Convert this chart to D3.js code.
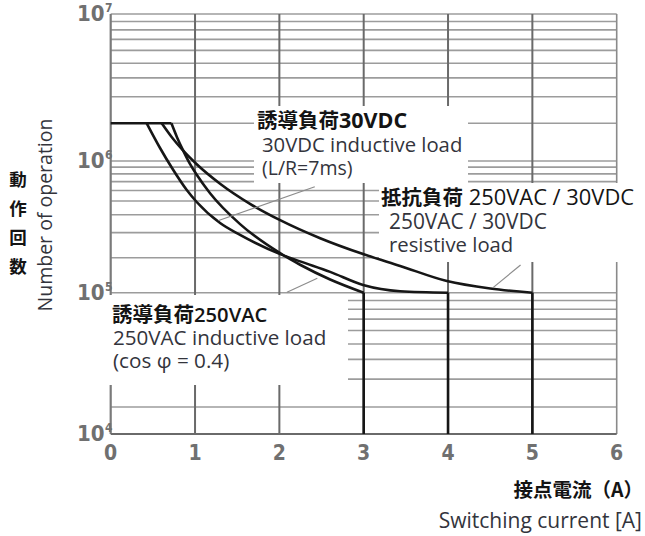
<!DOCTYPE html>
<html><head><meta charset="utf-8">
<script src="https://cdn.jsdelivr.net/npm/d3@7"></script>
<style>body{margin:0;background:#fff} svg{display:block}</style>
</head><body><svg id="c" width="645" height="536"></svg>
<script>
// ---------- data ----------
const xTicks = [0, 1, 2, 3, 4, 5, 6];
const yDecades = [1e4, 1e5, 1e6, 1e7];
const yDecadeExp = ["4", "5", "6", "7"];
const flatLevel = 2e6;
const endLevel = 1e5;

// 250VAC / 30VDC resistive load
const resX = [0.605, 0.727, 0.857, 1.020, 1.297, 1.652, 2.009, 2.484, 2.993, 3.432, 3.986, 4.50, 5.00];
const resY = [2e6, 1.54e6, 1.215e6, 9.46e5, 6.75e5, 4.78e5, 3.67e5, 2.74e5, 2.12e5, 1.70e5, 1.26e5, 1.087e5, 1e5];
// 30VDC inductive load (L/R=7ms)
const dcX = [0.427, 0.585, 0.727, 0.902, 1.020, 1.297, 1.534, 2.009, 2.246, 2.602, 2.993, 3.432, 4.00];
const dcY = [2e6, 1.27e6, 8.86e5, 6.05e5, 4.92e5, 3.5e5, 2.89e5, 2.12e5, 1.86e5, 1.51e5, 1.165e5, 1.03e5, 1e5];
// 250VAC inductive load (cos φ = 0.4)
const acX = [0.72, 0.786, 0.857, 0.940, 1.020, 1.178, 1.534, 2.009, 2.246, 2.602, 3.00];
const acY = [2e6, 1.55e6, 1.22e6, 9.5e5, 7.87e5, 5.72e5, 3.44e5, 2.15e5, 1.74e5, 1.3e5, 1e5];

// leader lines [x1,y1,x2,y2] in data units
const leaderDC = [1.28, 3.65e5, 2.42, 6.4e5];
const leaderRes = [4.53, 1.10e5, 4.86, 1.73e5];
const leaderAC = [2.09, 1.01e5, 2.45, 1.33e5];

// ---------- scales ----------
const svg = d3.select("#c");
const x = d3.scaleLinear().domain([0, 6]).range([110.7, 616.7]);
const y = d3.scaleLog()
  .domain([1e4, 2e4, 5e4, 1e5, 2e5, 5e5, 1e6, 2e6, 5e6, 1e7])
  .range([434, 407, 344, 292.7, 257.7, 201, 161, 123.3, 63.3, 14]);

const minor = [];
[1e4, 1e5, 1e6].forEach(d => { for (let k = 2; k <= 9; k++) minor.push(k * d); });

const grid = svg.append("g");
grid.selectAll("line.h").data(minor.concat([1e5, 1e6, 1e7])).join("line")
  .attr("x1", x(0)).attr("x2", x(6))
  .attr("y1", d => y(d)).attr("y2", d => y(d))
  .attr("stroke", "#9c9c9c").attr("stroke-width", 1.6);
grid.selectAll("line.v").data([1, 2, 3, 4, 5]).join("line")
  .attr("x1", d => x(d)).attr("x2", d => x(d))
  .attr("y1", y(1e7)).attr("y2", y(1e4))
  .attr("stroke", "#6a6a6a").attr("stroke-width", 2);
grid.append("line").attr("x1", x(6)).attr("x2", x(6)).attr("y1", y(1e7)).attr("y2", y(1e4))
  .attr("stroke", "#8a8a8a").attr("stroke-width", 1.6);
grid.append("line").attr("x1", x(0)).attr("x2", x(0)).attr("y1", y(1e7)).attr("y2", y(1e4))
  .attr("stroke", "#7a7a7a").attr("stroke-width", 2.2);
grid.append("line").attr("x1", x(0)).attr("x2", x(6)).attr("y1", y(1e4)).attr("y2", y(1e4))
  .attr("stroke", "#6a6a6a").attr("stroke-width", 2.2);

// ---------- label boxes (white panels behind annotations) ----------
const boxes = svg.append("g").attr("fill", "#fff");
boxes.append("rect").attr("x", 254).attr("y", 106).attr("width", 214).attr("height", 77);
boxes.append("rect").attr("x", 379).attr("y", 183).attr("width", 266).attr("height", 79);
boxes.append("rect").attr("x", 100).attr("y", 295).attr("width", 248).attr("height", 90);

// ---------- curves ----------
const line = d3.line().x(d => x(d[0])).y(d => y(d[1])).curve(d3.curveMonotoneX);
const curves = svg.append("g").attr("fill", "none").attr("stroke", "#161616")
  .attr("stroke-width", 2.6).attr("stroke-linejoin", "round");
function curve(xs, ys) {
  curves.append("path").attr("d", line(xs.map((v, i) => [v, ys[i]])));
  const xe = xs[xs.length - 1];
  curves.append("line").attr("x1", x(xe)).attr("x2", x(xe))
    .attr("y1", y(endLevel)).attr("y2", y(1e4));
}
curves.append("line").attr("x1", x(0)).attr("x2", x(d3.max([resX[0], dcX[0], acX[0]])))
  .attr("y1", y(flatLevel)).attr("y2", y(flatLevel));
curve(resX, resY);
curve(dcX, dcY);
curve(acX, acY);

// leader lines
const leaders = svg.append("g").attr("stroke", "#8c8c8c").attr("stroke-width", 1.2);
[leaderDC, leaderRes, leaderAC].forEach(l => {
  leaders.append("line").attr("x1", x(l[0])).attr("y1", y(l[1]))
    .attr("x2", x(l[2])).attr("y2", y(l[3]));
});

// ---------- texts ----------
const cjk = "'Noto Sans CJK JP', 'Noto Sans CJK SC', sans-serif";
const latin = "'Open Sans', 'Noto Sans', sans-serif";
const narrow = "'Liberation Sans Narrow', 'DejaVu Sans Condensed', 'Roboto', sans-serif";
const T = svg.append("g");
const ink = "#141414", eng = "#33343c";

// one <text> per annotation block; each line = [x, y, parts]
function block(lines) {
  const t = T.append("text");
  lines.forEach(ln => {
    ln[2].forEach((p, j) => {
      const s = t.append("tspan").text(p[0]).attr("font-family", p[1]).attr("font-size", p[2])
        .attr("font-weight", p[3]).attr("fill", p[4]);
      if (j === 0) s.attr("x", ln[0]).attr("y", ln[1]);
    });
  });
}
block([
  [257, 128, [["誘導負荷", cjk, 20.5, 700, ink], ["30VDC", latin, 21.5, 700, ink]]],
  [262, 152, [["30VDC inductive load", latin, 20.3, 400, eng]]],
  [262, 175, [["(L/R=7ms)", latin, 19.5, 400, eng]]]
]);
block([
  [381, 205, [["抵抗負荷", cjk, 20.5, 700, ink], [" 250VAC / 30VDC", latin, 21.9, 400, ink]]],
  [389, 229, [["250VAC / 30VDC", latin, 20.9, 400, eng]]],
  [389, 252, [["resistive load", latin, 20.3, 400, eng]]]
]);
block([
  [112, 322, [["誘導負荷", cjk, 20.5, 700, ink], ["250VAC", latin, 20.2, 600, ink]]],
  [113, 345, [["250VAC inductive load", latin, 20.6, 400, eng]]],
  [113, 368, [["(cos φ = 0.4)", latin, 20.7, 400, eng]]]
]);

// x tick labels
T.selectAll("text.xt").data(xTicks).join("text")
  .attr("x", d => x(d)).attr("y", 460).attr("text-anchor", "middle")
  .attr("font-family", narrow).attr("font-size", 21).attr("font-weight", 700)
  .attr("fill", "#707070").text(d => d);

// y tick labels 10^n
const yl = T.selectAll("text.yt").data(yDecades).join("text")
  .attr("x", 77).attr("y", d => y(d) + 7)
  .attr("font-family", narrow).attr("font-size", 22).attr("font-weight", 700)
  .attr("fill", "#707070");
yl.append("tspan").text("10");
yl.append("tspan").attr("font-size", 12).attr("dy", -9).attr("dx", 0.5)
  .text((d, i) => yDecadeExp[i]);

// axis titles
T.append("text").attr("x", 643).attr("y", 497).attr("text-anchor", "end")
  .attr("font-family", cjk).attr("font-size", 19.5).attr("font-weight", 700).attr("fill", ink)
  .text("接点電流（A）");
T.append("text").attr("x", 642).attr("y", 528).attr("text-anchor", "end")
  .attr("font-family", latin).attr("font-size", 21).attr("fill", eng)
  .text("Switching current [A]");
T.append("text").attr("transform", "translate(52,215) rotate(-90)").attr("text-anchor", "middle")
  .attr("font-family", latin).attr("font-size", 19.5).attr("fill", eng)
  .text("Number of operation");
const vChars = ["動", "作", "回", "数"];
const vt = T.append("text").attr("font-family", cjk).attr("font-size", 17.5)
  .attr("font-weight", 700).attr("fill", ink).attr("text-anchor", "middle");
vChars.forEach((c, i) => vt.append("tspan").attr("x", 18).attr("y", 186 + i * 29).text(c));
</script></body></html>
